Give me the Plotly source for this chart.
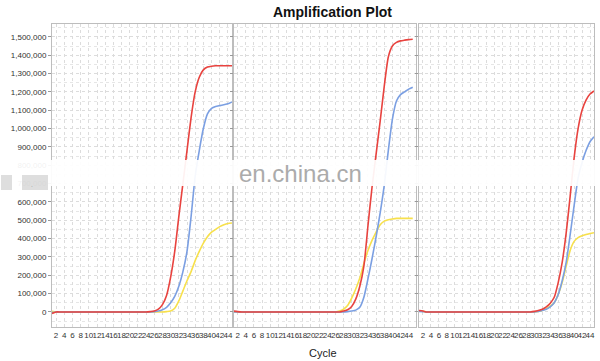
import plotly.graph_objects as go

# ---------------- data (values in thousands of ΔRn) ----------------
cycles = list(range(1, 46))

p1_red = [-8, 0, 0, 0, 0, 0, 0, 0, 0, 0,
          0, 0, 0, 0, 0, 0, 0, 0, 0, 0,
          0, 0, 0, 0, 2, 5, 15, 40, 90, 190,
          330, 520, 700, 880, 1060, 1200, 1280, 1320, 1335, 1340,
          1342, 1342, 1342, 1342, 1342]
p1_blue = [-3, 0, 0, 0, 0, 0, 0, 0, 0, 0,
           0, 0, 0, 0, 0, 0, 0, 0, 0, 0,
           0, 0, 0, 0, 0, 2, 5, 12, 25, 50,
           85, 140, 220, 330, 520, 740, 880, 1000, 1080, 1110,
           1120, 1125, 1130, 1135, 1145]
p1_yellow = [3, 0, 0, 0, 0, 0, 0, 0, 0, 0,
             0, 0, 0, 0, 0, 0, 0, 0, 0, 0,
             0, 0, 0, 0, 0, 0, 0, 0, 2, 5,
             20, 60, 115, 170, 220, 280, 330, 375, 410, 435,
             450, 465, 475, 482, 485]

p2_red = [5, 2, 0, 0, 0, 0, 0, 0, 0, 0,
          0, 0, 0, 0, 0, 0, 0, 0, 0, 0,
          0, 0, 0, 0, 0, 0, 0, 5, 12, 30,
          70, 140, 250, 470, 680, 860, 1040, 1230, 1390, 1450,
          1470, 1478, 1482, 1485, 1487]
p2_blue = [0, 0, 0, 0, 0, 0, 0, 0, 0, 0,
           0, 0, 0, 0, 0, 0, 0, 0, 0, 0,
           0, 0, 0, 0, 0, 0, 0, 0, 2, 5,
           10, 25, 80, 180, 290, 410, 540, 690, 880, 1050,
           1150, 1185, 1200, 1215, 1225]
p2_yellow = [0, 0, 0, 0, 0, 0, 0, 0, 0, 0,
             0, 0, 0, 0, 0, 0, 0, 0, 0, 0,
             0, 0, 0, 0, 0, 0, 5, 15, 35, 75,
             125, 185, 265, 335, 390, 435, 475, 495, 503, 507,
             510, 510, 510, 510, 510]

p3_red = [8, 5, 0, 0, 0, 0, 0, 0, 0, 0,
          0, 0, 0, 0, 0, 0, 0, 0, 0, 0,
          0, 0, 0, 0, 0, 0, 0, 0, 0, 3,
          8, 15, 28, 48, 80, 160, 270, 430, 630, 840,
          1000, 1100, 1155, 1188, 1205]
p3_blue = [3, 2, 0, 0, 0, 0, 0, 0, 0, 0,
           0, 0, 0, 0, 0, 0, 0, 0, 0, 0,
           0, 0, 0, 0, 0, 0, 0, 0, 0, 0,
           3, 8, 15, 28, 50, 95, 170, 270, 420, 580,
           730, 815, 880, 928, 955]
p3_yellow = [5, 3, 0, 0, 0, 0, 0, 0, 0, 0,
             0, 0, 0, 0, 0, 0, 0, 0, 0, 0,
             0, 0, 0, 0, 0, 0, 0, 0, 0, 0,
             3, 8, 18, 32, 50, 95, 160, 250, 335, 385,
             405, 415, 422, 428, 432]

x_ticks = list(range(2, 45, 2))
y_ticks = list(range(0, 1500001, 100000))

RED = "#e8433f"
BLUE = "#7b9fe2"
YELLOW = "#f7e04c"

panels = [
    (p1_red, p1_blue, p1_yellow),
    (p2_red, p2_blue, p2_yellow),
    (p3_red, p3_blue, p3_yellow),
]

W, H = 600, 361
def px(x):
    return x / W
def py(y):
    return 1 - y / H

x_domains = [(px(52), px(232)), (px(234), px(416)), (px(419), px(594))]
x_ranges = [(1, 45), (1.1, 45.8), (1, 45)]
y_dom = (py(327), py(24))
y_range = (-82000, 1570000)
TICKFONT = dict(size=8, color="#333", family="Liberation Sans Narrow, Arial Narrow, Arial")

fig = go.Figure()

for i, (red, blue, yellow) in enumerate(panels):
    n = "" if i == 0 else str(i + 1)
    for vals, col in ((yellow, YELLOW), (blue, BLUE), (red, RED)):
        fig.add_trace(go.Scatter(
            x=cycles, y=[v * 1000 for v in vals],
            mode="lines", line=dict(color=col, width=1.6, shape="spline", smoothing=0.6),
            xaxis="x" + n, yaxis="y" + n, showlegend=False, hoverinfo="skip"))

    ax = dict(
        domain=list(x_domains[i]), range=list(x_ranges[i]), anchor="y" + n,
        tickmode="array", tickvals=x_ticks, ticktext=[str(t) for t in x_ticks],
        tickangle=0, tickfont=TICKFONT,
        showgrid=True, gridcolor="#dcdcdc", griddash="dot", gridwidth=1,
        showline=True, linecolor="#bdbdbd", linewidth=1, mirror=True,
        zeroline=False, ticks="", ticklen=2,
    )
    ay = dict(
        domain=list(y_dom), range=list(y_range), anchor="x" + n,
        tickmode="array", tickvals=y_ticks,
        ticktext=[f"{t:,}" for t in y_ticks] if i == 0 else [""] * len(y_ticks),
        showticklabels=(i == 0),
        tickfont=TICKFONT,
        showgrid=True, gridcolor="#dcdcdc", griddash="dot", gridwidth=1,
        minor=dict(dtick=50000, tick0=0, showgrid=True, gridcolor="#e6e6e6", griddash="dot"),
        showline=True, linecolor="#bdbdbd", linewidth=1, mirror=True,
        zeroline=False, ticks="outside", ticklen=3, tickcolor="#999",
    )
    fig.update_layout(**{"xaxis" + n: ax, "yaxis" + n: ay})

# watermark band
fig.add_shape(type="rect", xref="paper", yref="paper", x0=0, x1=1,
              y0=py(186), y1=py(160), fillcolor="white", opacity=0.93,
              line=dict(width=0), layer="above")
fig.add_shape(type="rect", xref="paper", yref="paper", x0=px(1), x1=px(12),
              y0=py(190), y1=py(175), fillcolor="#c8c8c8", opacity=0.6,
              line=dict(width=0), layer="above")
fig.add_shape(type="rect", xref="paper", yref="paper", x0=px(22), x1=px(48),
              y0=py(190), y1=py(175), fillcolor="#c8c8c8", opacity=0.6,
              line=dict(width=0), layer="above")

annotations = [
    dict(text="<b>Amplification Plot</b>", x=px(332), y=py(12), xref="paper", yref="paper",
         showarrow=False, font=dict(size=14, color="#111", family="Arial"),
         xanchor="center", yanchor="middle"),
    dict(text="Cycle", x=px(323), y=py(353), xref="paper", yref="paper",
         showarrow=False, font=dict(size=11, color="#222", family="Arial"),
         xanchor="center", yanchor="middle"),
    dict(text="en.china.cn", x=px(300), y=py(173), xref="paper", yref="paper",
         showarrow=False, font=dict(size=24, color="#ababab", family="Arial"),
         xanchor="center", yanchor="middle"),
]
fig.update_layout(
    width=W, height=H, margin=dict(l=0, r=0, t=0, b=0),
    paper_bgcolor="white", plot_bgcolor="white",
    annotations=annotations,
)

fig.write_html("out.html")
